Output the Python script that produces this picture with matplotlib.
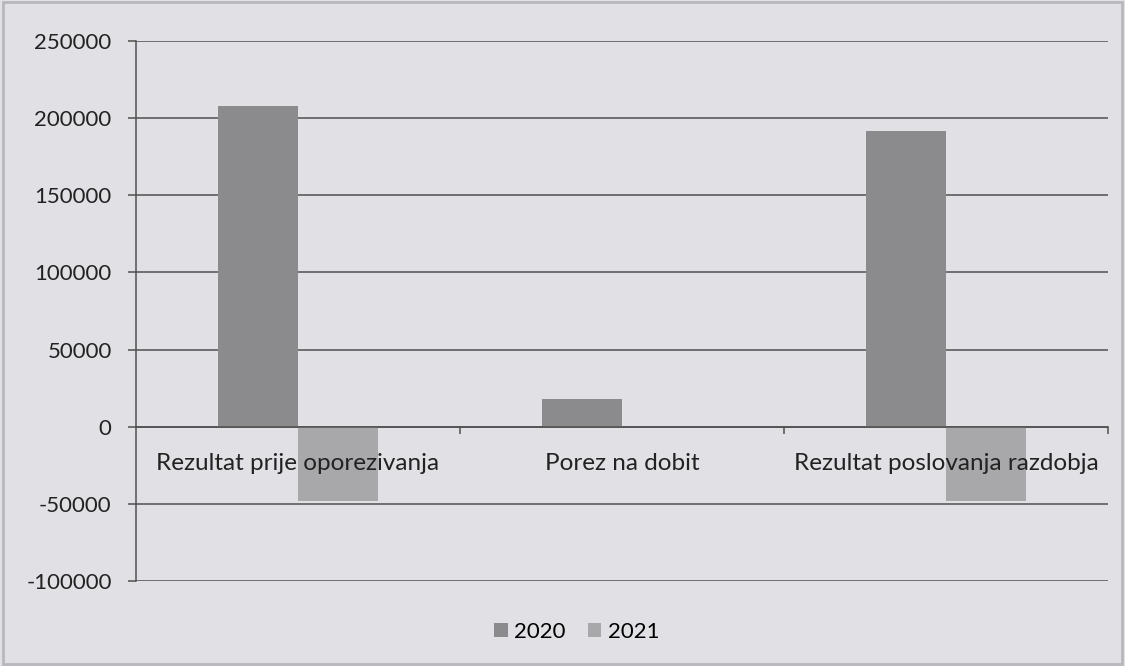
import matplotlib

matplotlib.use("Agg")
import matplotlib.pyplot as plt
import numpy as np
from matplotlib.patches import Rectangle
from matplotlib.transforms import offset_copy

kategorije = ["Rezultat prije oporezivanja", "Porez na dobit", "Rezultat poslovanja razdobja"]
godine = ["2020", "2021"]
vrijednosti_2020 = [208000, 17700, 191500]
vrijednosti_2021 = [-48000, 0, -48000]
y_oznake = [-100000, -50000, 0, 50000, 100000, 150000, 200000, 250000]

POZADINA = "#e1e1e5"
BOJA_2020 = "#8b8b8d"
BOJA_2021 = "#a8a8aa"
MREZA = "#505050"
TEKST = "#222222"

plt.rcParams["font.family"] = ["Lato", "DejaVu Sans"]

fig = plt.figure(figsize=(11.25, 6.66), dpi=100, facecolor=POZADINA)
fig.patches.append(Rectangle((0.003, 0.003), 0.994, 0.994, transform=fig.transFigure,
                             fill=False, edgecolor="#b8b8bc", linewidth=2))
ax = fig.add_axes([136 / 1125, 1 - 581 / 666, 972 / 1125, 540 / 666])
ax.set_facecolor(POZADINA)

x = np.arange(len(kategorije))
sirina = 0.247
ax.bar(x - sirina / 2, vrijednosti_2020, sirina, color=BOJA_2020, label=godine[0], zorder=3)
ax.bar(x + sirina / 2, vrijednosti_2021, sirina, color=BOJA_2021, label=godine[1], zorder=3)

ax.set_xlim(-0.5, len(kategorije) - 0.5)
ax.set_ylim(-100000, 250000)
ax.set_yticks(y_oznake)
ax.set_yticklabels([str(v) for v in y_oznake], fontsize=16, color=TEKST)
ax.yaxis.grid(True, color=MREZA, linewidth=1.1, zorder=0)
ax.tick_params(axis="y", length=6, width=1.1, color=MREZA, pad=11.5)

for s in ["top", "right"]:
    ax.spines[s].set_visible(False)
ax.spines["left"].set_color(MREZA)
ax.spines["left"].set_linewidth(1.1)
ax.spines["bottom"].set_position(("data", 0))
ax.spines["bottom"].set_color(MREZA)
ax.spines["bottom"].set_linewidth(1.1)
ax.spines["bottom"].set_zorder(4)

ax.set_xticks(x)
ax.set_xticklabels([])
ax.set_xticks(np.arange(len(kategorije)) + 0.5, minor=True)
ax.tick_params(axis="x", which="major", length=0)
ax.tick_params(axis="x", which="minor", length=5, width=1.1, color=MREZA, direction="out")

# nazivi kategorija iznad stupaca, odmah ispod nulte linije
pomak = offset_copy(ax.transData, fig=fig, x=0, y=-37, units="dots")
for xi, naziv in zip(x, kategorije):
    ax.text(xi, 0, naziv, transform=pomak, ha="center", va="center",
            fontsize=17.5, color=TEKST, zorder=6)

ax.legend(loc="center", bbox_to_anchor=((577 - 136) / 972, -(632 - 581) / 540), ncol=2,
          frameon=False, fontsize=16, handlelength=0.6, handleheight=0.6,
          handletextpad=0.3, columnspacing=1.0)

fig.savefig("out.png", dpi=100, facecolor=POZADINA)
plt.close(fig)
